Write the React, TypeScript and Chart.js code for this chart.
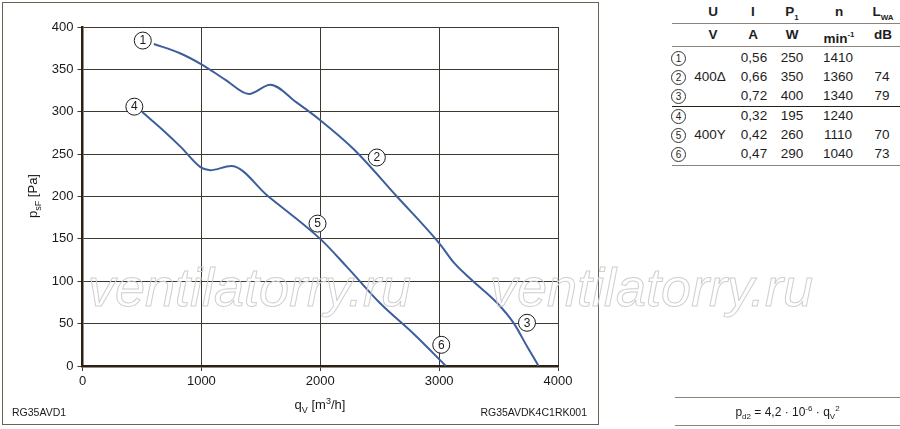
import { useEffect, useRef } from "react";
import Chart from "chart.js/auto";

// fan curves: q_V [m3/h] vs p_sF [Pa]
const deltaQ = [600, 820, 1000, 1200, 1400, 1580, 1800, 2000, 2280, 2645, 3000, 3130, 3270, 3490, 3630, 3740, 3837];
const deltaP = [380, 369, 356, 338, 321, 332, 311, 290, 256, 200, 145, 121, 102, 74, 50, 23, 0];
const starQ = [500, 680, 830, 989, 1075, 1250, 1564, 2000, 2224, 2504, 2785, 3057];
const starP = [300, 278, 258, 235, 231, 236, 200, 150, 117, 74, 38, 0];

// operating point markers
const markerIds = ["1", "2", "3", "4", "5", "6"];
const markerQ = [507, 2476, 3739, 436, 1977, 3018];
const markerP = [384, 246, 51, 306, 168, 25];

// table on the right
const rowIds = ["1", "2", "3", "4", "5", "6"];
const rowU = ["", "400Δ", "", "", "400Y", ""];
const rowI = ["0,56", "0,66", "0,72", "0,32", "0,42", "0,47"];
const rowP1 = ["250", "350", "400", "195", "260", "290"];
const rowN = ["1410", "1360", "1340", "1240", "1110", "1040"];
const rowL = ["", "74", "79", "", "70", "73"];

const FONT = '"Liberation Sans", Arial, sans-serif';
const curveColor = "#3c5f9c";
const gridColor = "#40392f";
const axisColor = "#2a2114";

const markerPlugin = {
  id: "markers",
  afterDatasetsDraw(chart: any) {
    const { ctx, scales } = chart;
    ctx.save();
    markerIds.forEach((id, i) => {
      const px = scales.x.getPixelForValue(markerQ[i]);
      const py = scales.y.getPixelForValue(markerP[i]);
      ctx.beginPath();
      ctx.arc(px, py, 8.5, 0, Math.PI * 2);
      ctx.fillStyle = "#fff";
      ctx.fill();
      ctx.lineWidth = 1;
      ctx.strokeStyle = "#1a1a1a";
      ctx.stroke();
      ctx.fillStyle = "#1a1a1a";
      ctx.font = `12px ${FONT}`;
      ctx.textAlign = "center";
      ctx.textBaseline = "middle";
      ctx.fillText(id, px, py + 0.5);
    });
    ctx.restore();
  },
};

function Cell({ x, y, children, bold, w = 60 }: { x: number; y: number; children: any; bold?: boolean; w?: number }) {
  return (
    <div
      style={{
        position: "absolute",
        left: x - w / 2,
        top: y - 9,
        width: w,
        height: 18,
        lineHeight: "18px",
        textAlign: "center",
        fontWeight: bold ? 700 : 400,
        fontSize: 13.5,
        color: "#1e1e1e",
        whiteSpace: "nowrap",
      }}
    >
      {children}
    </div>
  );
}

function Circ({ x, y, n }: { x: number; y: number; n: string }) {
  return (
    <div
      style={{
        position: "absolute",
        left: x - 7,
        top: y - 7,
        width: 13,
        height: 13,
        border: "1px solid #333",
        borderRadius: "50%",
        fontSize: 10,
        lineHeight: "13px",
        textAlign: "center",
        color: "#1e1e1e",
      }}
    >
      {n}
    </div>
  );
}

function HLine({ y, color = "#8c8478" }: { y: number; color?: string }) {
  return <div style={{ position: "absolute", left: 672, top: y, width: 228, height: 1, background: color }} />;
}

export default function App() {
  const canvasRef = useRef<HTMLCanvasElement | null>(null);

  useEffect(() => {
    const canvas = canvasRef.current;
    if (!canvas) return;
    const tickFont = { family: FONT, size: 13 };
    const chart = new Chart(canvas, {
      type: "line",
      data: {
        datasets: [
          {
            data: deltaQ.map((q, i) => ({ x: q, y: deltaP[i] })),
            borderColor: curveColor,
            borderWidth: 2,
            pointRadius: 0,
            cubicInterpolationMode: "monotone",
            fill: false,
          },
          {
            data: starQ.map((q, i) => ({ x: q, y: starP[i] })),
            borderColor: curveColor,
            borderWidth: 2,
            pointRadius: 0,
            cubicInterpolationMode: "monotone",
            fill: false,
          },
        ],
      },
      options: {
        animation: false,
        responsive: false,
        maintainAspectRatio: false,
        layout: { padding: { left: 0, top: 27, right: 42, bottom: 0 } },
        plugins: { legend: { display: false }, tooltip: { enabled: false } },
        scales: {
          x: {
            type: "linear",
            min: 0,
            max: 4000,
            ticks: { stepSize: 1000, color: "#1a1a1a", font: tickFont, padding: 3, maxRotation: 0, callback: (v: any) => String(v) },
            grid: { color: gridColor, lineWidth: 1, tickLength: 5 },
            border: { color: axisColor, width: 2.5 },
            afterFit: (s: any) => {
              s.height = 63;
            },
          },
          y: {
            type: "linear",
            min: 0,
            max: 400,
            ticks: { stepSize: 50, color: "#1a1a1a", font: tickFont, padding: 4, callback: (v: any) => String(v) },
            grid: { color: gridColor, lineWidth: 1, tickLength: 5 },
            border: { color: axisColor, width: 2.5 },
            afterFit: (s: any) => {
              s.width = 82.5;
            },
          },
        },
      },
      plugins: [markerPlugin],
    } as any);
    return () => chart.destroy();
  }, []);

  const rowY = [58, 77, 96, 116, 135, 154];

  return (
    <div style={{ position: "fixed", left: 0, top: 0, width: 900, height: 429, background: "#fff", fontFamily: FONT, overflow: "hidden" }}>
      <div style={{ position: "absolute", left: 2, top: 2, width: 597, height: 423, border: "1.5px solid #6b6155", boxSizing: "border-box" }} />
      <canvas ref={canvasRef} width={600} height={429} style={{ position: "absolute", left: 0, top: 0, width: 600, height: 429 }} />

      {/* watermark */}
      {[88, 490].map((x) => (
        <div
          key={x}
          style={{
            position: "absolute",
            left: x,
            top: 256,
            fontSize: 54,
            fontStyle: "italic",
            lineHeight: "62px",
            color: "transparent",
            WebkitTextStroke: "1px #cfcfcf",
            pointerEvents: "none",
            whiteSpace: "nowrap",
          }}
        >
          ventilatorry.ru
        </div>
      ))}

      {/* axis titles */}
      <div style={{ position: "absolute", left: 220, width: 200, top: 396, textAlign: "center", fontSize: 13, color: "#1a1a1a" }}>
        q<sub style={{ fontSize: 9 }}>V</sub> [m<sup style={{ fontSize: 9 }}>3</sup>/h]
      </div>
      <div
        style={{
          position: "absolute",
          left: 33 - 50,
          top: 196 - 10,
          width: 100,
          height: 20,
          lineHeight: "20px",
          textAlign: "center",
          fontSize: 13,
          color: "#1a1a1a",
          transform: "rotate(-90deg)",
        }}
      >
        p<sub style={{ fontSize: 9 }}>sF</sub> [Pa]
      </div>
      <div style={{ position: "absolute", left: 12, top: 406, fontSize: 10.5, color: "#1a1a1a" }}>RG35AVD1</div>
      <div style={{ position: "absolute", right: 900 - 587, top: 406, fontSize: 10.5, color: "#1a1a1a" }}>RG35AVDK4C1RK001</div>

      {/* table */}
      <Cell x={713} y={12} bold>U</Cell>
      <Cell x={753} y={12} bold>I</Cell>
      <Cell x={792} y={12} bold>
        P<sub style={{ fontSize: 8 }}>1</sub>
      </Cell>
      <Cell x={839} y={12} bold>n</Cell>
      <Cell x={883} y={12} bold>
        L<sub style={{ fontSize: 8 }}>WA</sub>
      </Cell>
      <HLine y={23} />
      <Cell x={713} y={35} bold>V</Cell>
      <Cell x={753} y={35} bold>A</Cell>
      <Cell x={792} y={35} bold>W</Cell>
      <Cell x={839} y={35} bold>
        min<sup style={{ fontSize: 8 }}>-1</sup>
      </Cell>
      <Cell x={883} y={35} bold>dB</Cell>
      <HLine y={46} />
      {rowIds.map((id, i) => (
        <div key={id}>
          <Circ x={678} y={rowY[i]} n={id} />
          <Cell x={710} y={rowY[i]}>{rowU[i]}</Cell>
          <Cell x={754} y={rowY[i]}>{rowI[i]}</Cell>
          <Cell x={792} y={rowY[i]}>{rowP1[i]}</Cell>
          <Cell x={838} y={rowY[i]}>{rowN[i]}</Cell>
          <Cell x={882} y={rowY[i]}>{rowL[i]}</Cell>
        </div>
      ))}
      <HLine y={106} color="#2a2114" />
      <HLine y={165} />

      {/* dynamic pressure formula */}
      <div style={{ position: "absolute", left: 675, top: 397, width: 225, height: 1, background: "#8c8478" }} />
      <div style={{ position: "absolute", left: 675, top: 404, width: 225, textAlign: "center", fontSize: 12, color: "#1a1a1a" }}>
        p<sub style={{ fontSize: 8 }}>d2</sub> = 4,2 · 10<sup style={{ fontSize: 8 }}>-6</sup> · q<sub style={{ fontSize: 8 }}>V</sub>
        <sup style={{ fontSize: 8 }}>2</sup>
      </div>
      <div style={{ position: "absolute", left: 675, top: 425, width: 225, height: 1, background: "#8c8478" }} />
    </div>
  );
}
